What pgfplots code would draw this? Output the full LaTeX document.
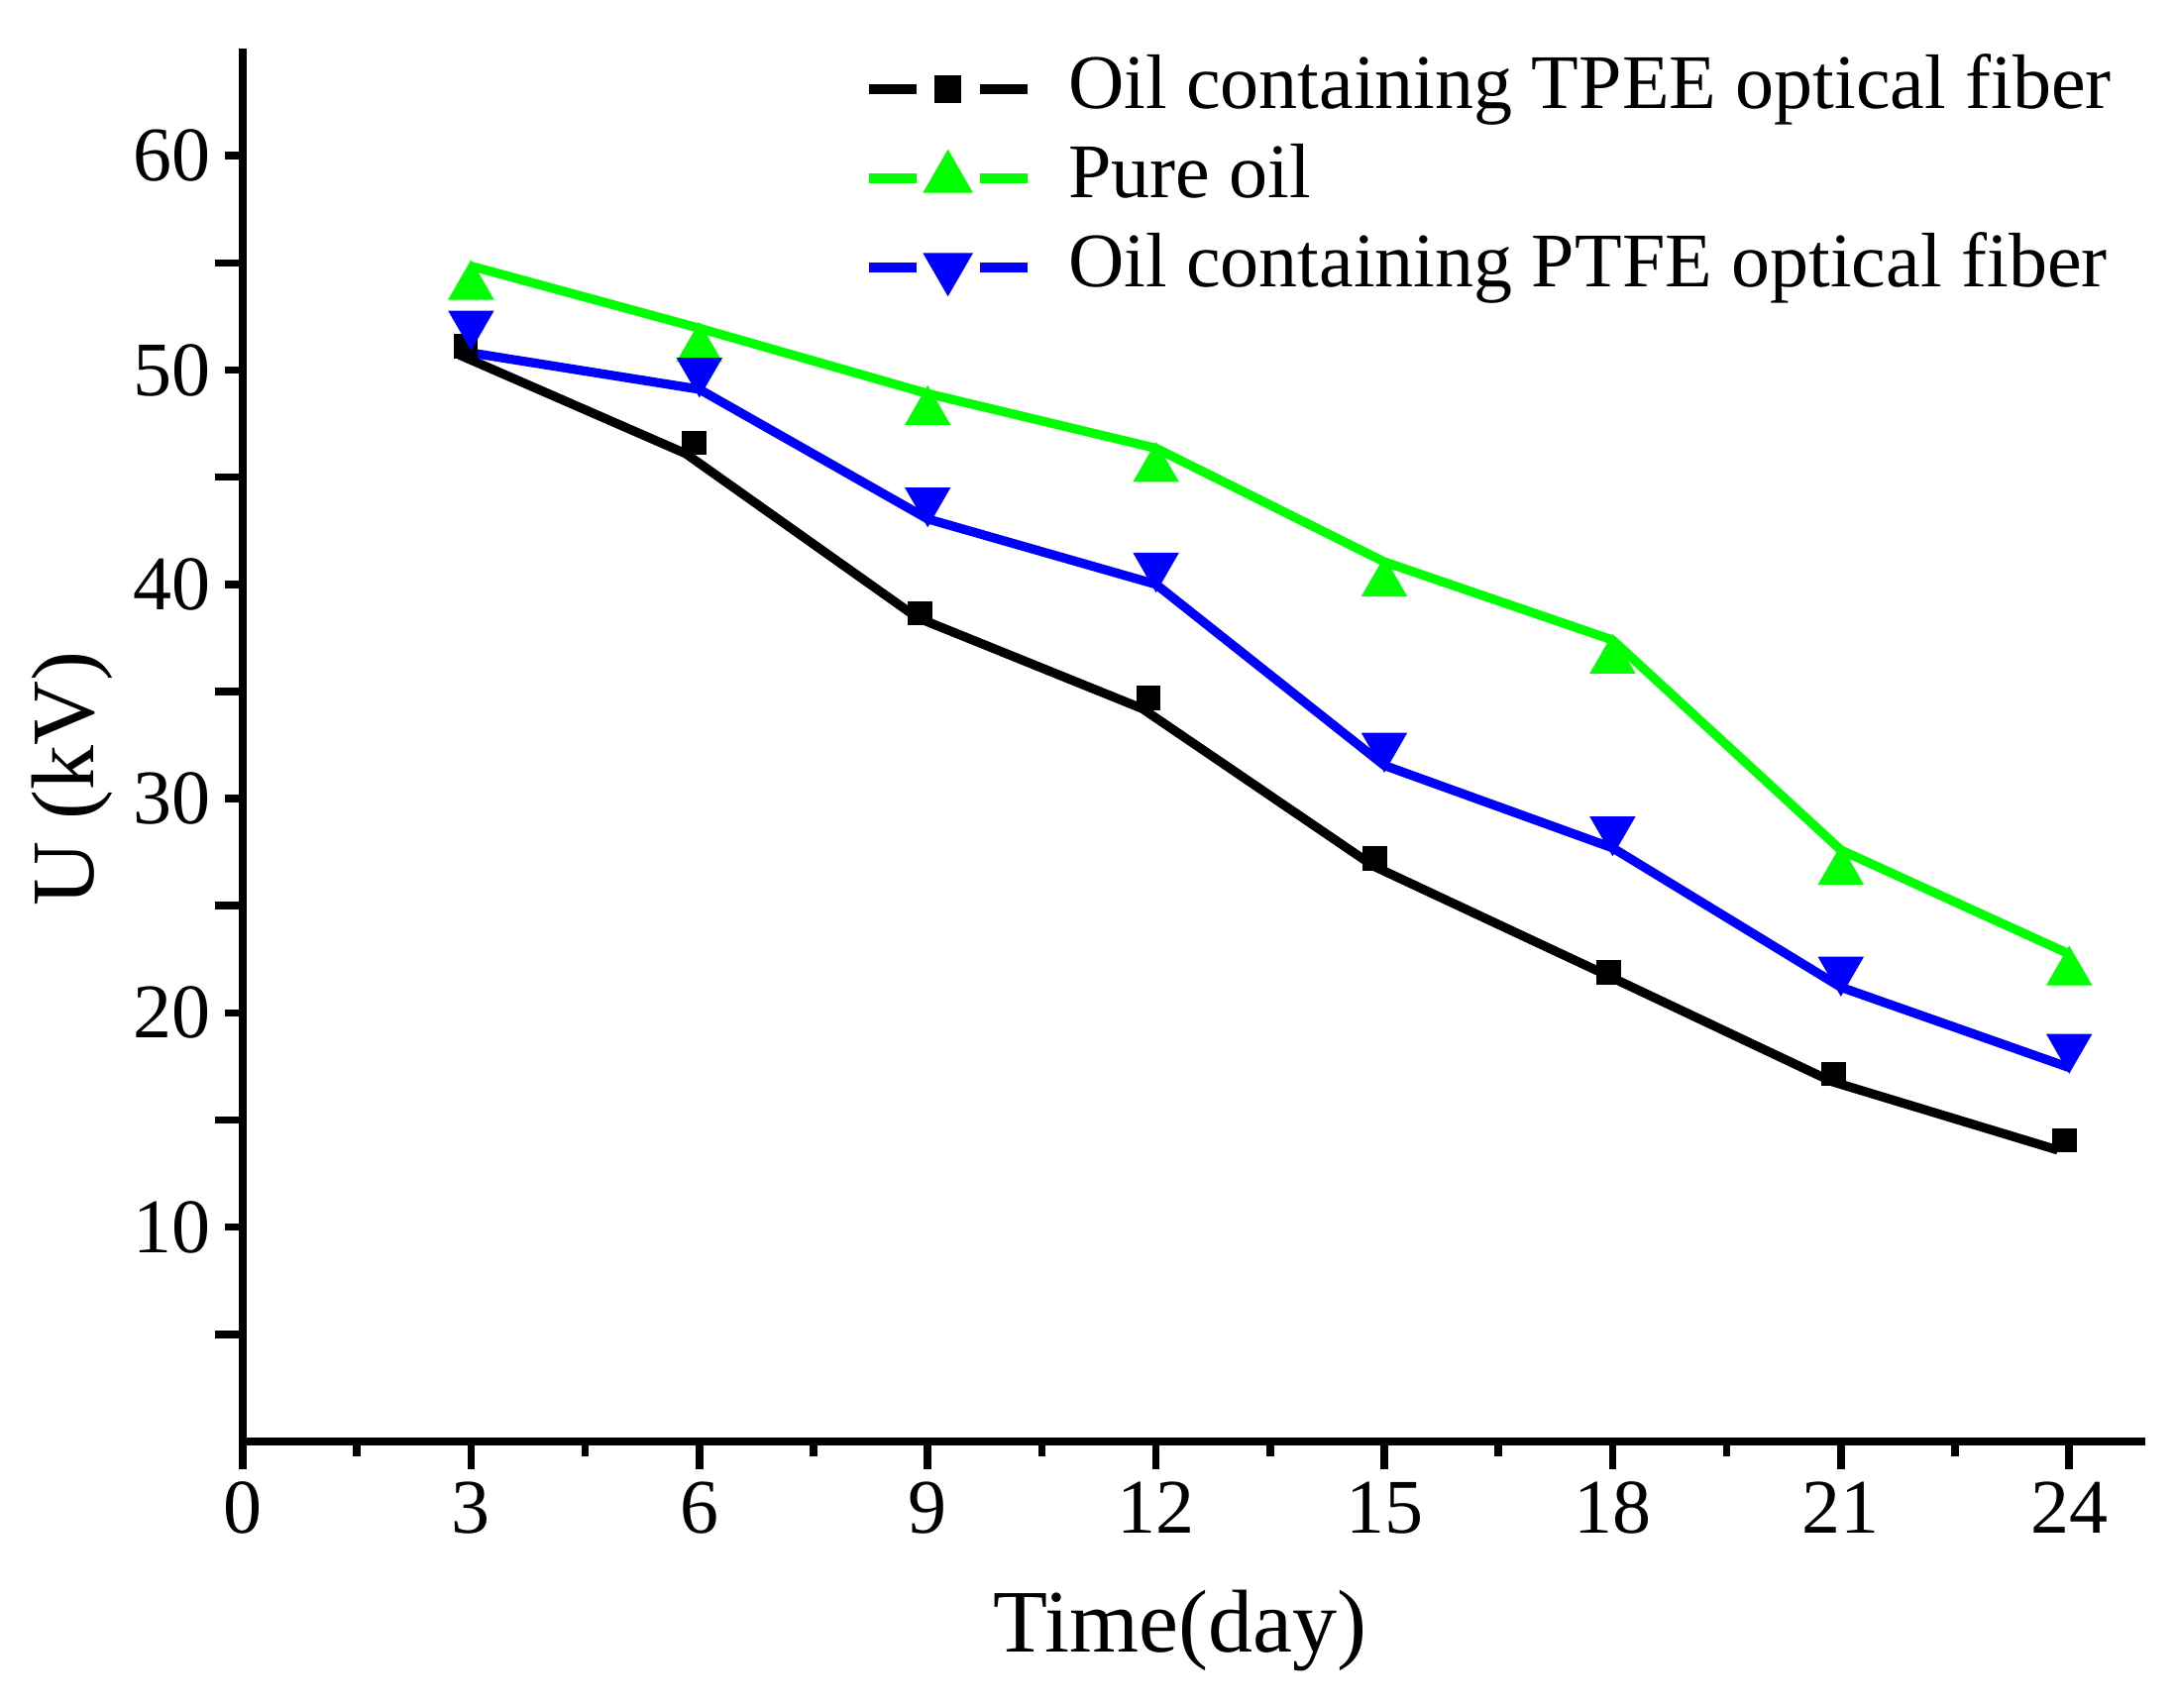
\documentclass[border=0pt]{standalone}
\usepackage{fontspec}
\setmainfont{Liberation Serif}
\usepackage{pgfplots}
\pgfplotsset{compat=1.18}
\definecolor{pgreen}{RGB}{0,255,0}
\definecolor{pblue}{RGB}{0,0,255}
\begin{document}
\begin{tikzpicture}
\path[use as bounding box] (-61.25bp,-67.25bp) rectangle (488bp,363.75bp);
\begin{axis}[
  at={(0,0)}, anchor=south west,
  scale only axis, width=480bp, height=351.5bp,
  xmin=0, xmax=25, ymin=0, ymax=65,
  axis x line*=bottom, axis y line*=left,
  axis line style={line width=1.9bp, black},
  every tick/.style={black, line width=1.9bp},
  tick align=outside,
  major tick length=7bp, minor tick length=3.75bp,
  xtick={0,3,...,24}, minor xtick={1.5,4.5,...,22.5},
  ytick={5,15,...,55}, yticklabels={,,,,,,},
  extra y ticks={10,20,30,40,50,60},
  extra y tick labels={10,20,30,40,50,60},
  extra y tick style={major tick length=4.5bp},
  /pgf/number format/assume math mode=true,
  tick label style={font=\fontsize{19.5bp}{22bp}\selectfont, inner sep=0pt},
  xticklabel style={yshift=-3bp},
  yticklabel style={xshift=-3.5bp},
  xlabel={Time(day)},
  xlabel style={font=\fontsize{22.5bp}{26bp}\selectfont, at={(axis description cs:0.5,0)}, anchor=base, yshift=-53bp, xshift=-3.5bp},
  ylabel={U (kV)},
  ylabel style={font=\fontsize{22.5bp}{26bp}\selectfont, at={(axis description cs:-0.0896,0.476)}, anchor=center},
  legend cell align=left,
  legend image code/.code={
    \draw[#1,mark=none] (0bp,0bp) -- (12bp,0bp);
    \draw[#1,mark=none] (28bp,0bp) -- (40bp,0bp);
    \draw[#1] plot coordinates {(20bp,0bp)};
  },
  legend style={draw=none, fill=none, at={(axis description cs:0.3266,1)}, anchor=north west,
    inner sep=0pt, outer sep=0pt, font=\fontsize{19.5bp}{22bp}\selectfont,
    nodes={inner sep=1bp, text height=14bp, text depth=4.5bp}, row sep=2bp,
    /tikz/every odd column/.append style={column sep=8.2bp}},
]
% TPEE
\addplot[black, line width=2.3bp, line join=round, forget plot] coordinates {
(2.85,50.7) (5.82,46.1) (8.86,38.45) (11.82,34.2) (14.86,26.85) (17.9,21.8) (20.88,16.8) (23.85,13.6)};
% Pure oil
\addplot[pgreen, line width=2.3bp, line join=round, forget plot] coordinates {
(3,54.85) (6,51.95) (9,48.9) (12,46.35) (15,41.05) (18,37.4) (21,27.6) (24,22.75)};
% PTFE
\addplot[pblue, line width=2.3bp, line join=round, forget plot] coordinates {
(3,50.8) (6,49.1) (9,43.05) (12,40.0) (15,31.55) (18,27.7) (21,21.2) (24,17.45)};
\addplot[black, only marks, mark=square*, mark size=2.9bp, forget plot] coordinates {
(2.93,51.1) (5.93,46.6) (8.9,38.65) (11.9,34.7) (14.88,27.2) (17.95,21.9) (20.9,17.15) (23.94,14.05)};
\addplot[pgreen, only marks, mark=triangle*, mark size=6.3bp, forget plot] coordinates {
(3,53.9) (6,51.0) (9,48.05) (12,45.4) (15,40.05) (18,36.45) (21,26.6) (24,21.9)};
\addplot[pblue, only marks, mark=triangle*, mark size=6.3bp, mark options={rotate=180}, forget plot] coordinates {
(3,52.15) (6,49.95) (9,43.9) (12,40.85) (15,32.45) (18,28.55) (21,22.0) (24,18.4)};
\addlegendimage{black, line width=2.3bp, mark=square*, mark size=2.9bp, mark options={line width=1bp}}
\addlegendentry{Oil containing TPEE optical fiber}
\addlegendimage{pgreen, line width=2.3bp, mark=triangle*, mark size=6.3bp, mark options={line width=1bp}}
\addlegendentry{Pure oil}
\addlegendimage{pblue, line width=2.3bp, mark=triangle*, mark size=6.3bp, mark options={rotate=180, line width=1bp}}
\addlegendentry{Oil containing PTFE optical fiber}
\end{axis}
\end{tikzpicture}
\end{document}
